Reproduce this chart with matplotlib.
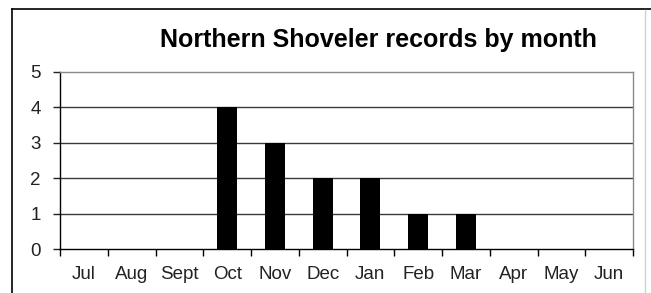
import matplotlib
matplotlib.use("Agg")
import matplotlib.pyplot as plt
from matplotlib.lines import Line2D
import numpy as np

months = ["Jul", "Aug", "Sept", "Oct", "Nov", "Dec", "Jan", "Feb", "Mar", "Apr", "May", "Jun"]
records = [0, 0, 0, 4, 3, 2, 2, 1, 1, 0, 0, 0]
yticks = [0, 1, 2, 3, 4, 5]

plt.rcParams['font.family'] = ['Liberation Sans', 'DejaVu Sans']

W, H = 651, 293
fig = plt.figure(figsize=(W / 100, H / 100), dpi=100)
fig.patch.set_facecolor('white')

left, right, top, bottom = 60, 633, 72, 249
ax = fig.add_axes([left / W, 1 - bottom / H, (right - left) / W, (bottom - top) / H])

x = np.arange(len(months))
ax.bar(x, records, width=0.42, color='black', zorder=3)
ax.set_xlim(-0.5, len(months) - 0.5)
ax.set_ylim(0, 5)
ax.set_yticks(yticks)
ax.set_yticklabels([str(v) for v in yticks])
ax.set_xticks(x)
ax.set_xticklabels(months)
ax.set_xticks(np.arange(-0.5, len(months)), minor=True)

for v in yticks[1:5]:
    ax.axhline(v, color='#3a3a3a', lw=1.0, zorder=1)

for s in ['top', 'right']:
    ax.spines[s].set_color('#8a8a8a')
    ax.spines[s].set_linewidth(1.0)
for s in ['left', 'bottom']:
    ax.spines[s].set_color('black')
    ax.spines[s].set_linewidth(1.0)

ax.tick_params(axis='y', direction='out', length=5, width=1, pad=9, labelsize=13.5, colors='#222222')
ax.tick_params(axis='x', which='major', length=0, pad=12, labelsize=13.5, labelcolor='#222222')
ax.tick_params(axis='x', which='minor', direction='out', length=5, width=1, color='black')

fig.text(378 / W, 1 - 40 / H, "Northern Shoveler records by month", ha='center', va='center',
         fontsize=18, fontweight='bold')

# outer frame (partial, as in cropped screenshot)
fig.add_artist(Line2D([12 / W, 12 / W], [0, 1 - 9 / H], color='black', lw=1.2, transform=fig.transFigure))
fig.add_artist(Line2D([12 / W, 1], [1 - 9 / H, 1 - 9 / H], color='black', lw=1.2, transform=fig.transFigure))
fig.add_artist(Line2D([645 / W, 645 / W], [0, 1 - 10 / H], color='#d0d0d0', lw=1.0, transform=fig.transFigure))

fig.savefig("out.png", dpi=100)
